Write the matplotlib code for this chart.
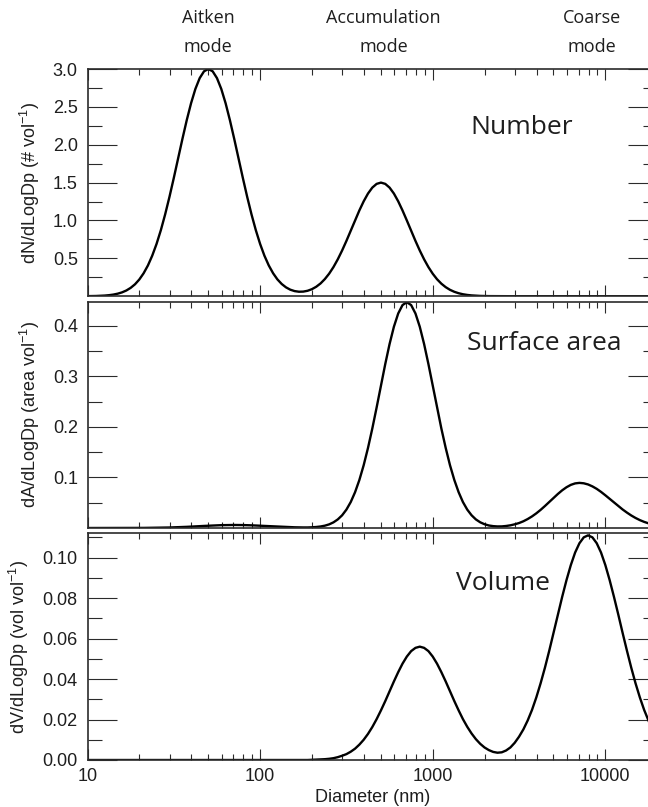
import matplotlib
matplotlib.use("Agg")
import matplotlib.pyplot as plt
from matplotlib.ticker import FixedLocator, NullFormatter, LogLocator, FormatStrFormatter

# ---------------- data ----------------
diameter_nm = [
    10.00, 10.59, 11.22, 11.89, 12.59, 13.34, 14.13, 14.96, 15.85, 16.79,
    17.78, 18.84, 19.95, 21.13, 22.39, 23.71, 25.12, 26.61, 28.18, 29.85,
    31.62, 33.50, 35.48, 37.58, 39.81, 42.17, 44.67, 47.32, 50.12, 53.09,
    56.23, 59.57, 63.10, 66.83, 70.79, 74.99, 79.43, 84.14, 89.13, 94.41,
    100.0, 105.9, 112.2, 118.9, 125.9, 133.4, 141.3, 149.6, 158.5, 167.9,
    177.8, 188.4, 199.5, 211.3, 223.9, 237.1, 251.2, 266.1, 281.8, 298.5,
    316.2, 335.0, 354.8, 375.8, 398.1, 421.7, 446.7, 473.2, 501.2, 530.9,
    562.3, 595.7, 631.0, 668.3, 707.9, 749.9, 794.3, 841.4, 891.3, 944.1,
    1000, 1059, 1122, 1189, 1259, 1334, 1413, 1496, 1585, 1679,
    1778, 1884, 1995, 2113, 2239, 2371, 2512, 2661, 2818, 2985,
    3162, 3350, 3548, 3758, 3981, 4217, 4467, 4732, 5012, 5309,
    5623, 5957, 6310, 6683, 7079, 7499, 7943, 8414, 8913, 9441,
    10000, 10590, 11220, 11890, 12590, 13340, 14130, 14960, 15850, 16790,
    17780, 18840, 19950,
]

number_dist = [
    0.0010, 0.0018, 0.0030, 0.0051, 0.0084, 0.0136, 0.0215, 0.0333, 0.0506, 0.0754,
    0.1100, 0.1572, 0.2201, 0.3020, 0.4060, 0.5348, 0.6902, 0.8728, 1.0813, 1.3127,
    1.5614, 1.8196, 2.0777, 2.3245, 2.5481, 2.7368, 2.8800, 2.9696, 3.0000, 2.9696,
    2.8800, 2.7368, 2.5481, 2.3245, 2.0777, 1.8196, 1.5614, 1.3127, 1.0813, 0.8728,
    0.6902, 0.5352, 0.4068, 0.3033, 0.2224, 0.1611, 0.1165, 0.0859, 0.0673, 0.0591,
    0.0607, 0.0717, 0.0926, 0.1244, 0.1684, 0.2259, 0.2979, 0.3851, 0.4870, 0.6030,
    0.7301, 0.8643, 1.0005, 1.1323, 1.2529, 1.3556, 1.4340, 1.4832, 1.5000, 1.4832,
    1.4340, 1.3556, 1.2529, 1.1323, 1.0005, 0.8643, 0.7301, 0.6030, 0.4870, 0.3845,
    0.2969, 0.2241, 0.1654, 0.1193, 0.0842, 0.0581, 0.0392, 0.0258, 0.0167, 0.0105,
    0.0065, 0.0039, 0.0023, 0.0013, 0.0008, 0.0004, 0.0, 0.0, 0.0, 0.0,
    0.0, 0.0, 0.0, 0.0, 0.0, 0.0, 0.0, 0.0, 0.0, 0.0,
    0.0, 0.0, 0.0, 0.0, 0.0, 0.0, 0.0, 0.0, 0.0, 0.0,
    0.0, 0.0, 0.0, 0.0, 0.0, 0.0, 0.0, 0.0, 0.0, 0.0,
    0.0, 0.0, 0.0,
]

surface_dist = [
    0.0, 0.0, 0.0, 0.0, 0.0, 0.0, 0.0, 0.0, 0.0, 0.0,
    0.0001, 0.0001, 0.0001, 0.0002, 0.0003, 0.0004, 0.0005, 0.0006, 0.0008, 0.0010,
    0.0013, 0.0016, 0.0020, 0.0023, 0.0028, 0.0032, 0.0036, 0.0041, 0.0045, 0.0049,
    0.0053, 0.0056, 0.0058, 0.0060, 0.0060, 0.0060, 0.0058, 0.0056, 0.0053, 0.0049,
    0.0045, 0.0041, 0.0036, 0.0032, 0.0028, 0.0023, 0.0020, 0.0016, 0.0014, 0.0012,
    0.0011, 0.0011, 0.0014, 0.0020, 0.0030, 0.0046, 0.0072, 0.0112, 0.0170, 0.0251,
    0.0364, 0.0514, 0.0708, 0.0950, 0.1243, 0.1585, 0.1970, 0.2387, 0.2820, 0.3246,
    0.3642, 0.3984, 0.4247, 0.4413, 0.4470, 0.4413, 0.4247, 0.3984, 0.3642, 0.3246,
    0.2820, 0.2387, 0.1970, 0.1585, 0.1243, 0.0950, 0.0708, 0.0514, 0.0364, 0.0252,
    0.0170, 0.0113, 0.0075, 0.0050, 0.0037, 0.0031, 0.0032, 0.0040, 0.0053, 0.0073,
    0.0098, 0.0133, 0.0177, 0.0229, 0.0290, 0.0359, 0.0435, 0.0515, 0.0596, 0.0674,
    0.0746, 0.0807, 0.0854, 0.0883, 0.0893, 0.0885, 0.0862, 0.0824, 0.0775, 0.0715,
    0.0648, 0.0578, 0.0506, 0.0435, 0.0367, 0.0305, 0.0248, 0.0199, 0.0156, 0.0121,
    0.0092, 0.0068, 0.0050,
]

volume_dist = [
    0.0, 0.0, 0.0, 0.0, 0.0, 0.0, 0.0, 0.0, 0.0, 0.0,
    0.0, 0.0, 0.0, 0.0, 0.0, 0.0, 0.0, 0.0, 0.0, 0.0,
    0.0, 0.0, 0.0, 0.0, 0.0, 0.0, 0.0, 0.0, 0.0, 0.0,
    0.0, 0.0, 0.0, 0.0, 0.0, 0.0, 0.0, 0.0, 0.0, 0.0,
    0.0, 0.0, 0.0, 0.0, 0.0, 0.0, 0.0, 0.0, 0.0, 0.0,
    0.0, 0.0, 0.0001, 0.0002, 0.0003, 0.0004, 0.0006, 0.0009, 0.0014, 0.0021,
    0.0029, 0.0041, 0.0056, 0.0076, 0.0100, 0.0129, 0.0163, 0.0202, 0.0245, 0.0291,
    0.0340, 0.0388, 0.0434, 0.0476, 0.0511, 0.0538, 0.0554, 0.0560, 0.0554, 0.0538,
    0.0511, 0.0476, 0.0434, 0.0388, 0.0340, 0.0291, 0.0245, 0.0202, 0.0164, 0.0131,
    0.0103, 0.0080, 0.0062, 0.0049, 0.0040, 0.0036, 0.0038, 0.0047, 0.0062, 0.0085,
    0.0115, 0.0151, 0.0195, 0.0247, 0.0309, 0.0379, 0.0456, 0.0540, 0.0628, 0.0718,
    0.0806, 0.0889, 0.0963, 0.1025, 0.1071, 0.1100, 0.1110, 0.1100, 0.1071, 0.1025,
    0.0963, 0.0889, 0.0806, 0.0718, 0.0628, 0.0540, 0.0456, 0.0379, 0.0309, 0.0247,
    0.0194, 0.0150, 0.0114,
]

panel_titles = ["Number", "Surface area", "Volume"]
y_labels = [
    "dN/dLogDp (# vol$^{-1}$)",
    "dA/dLogDp (area vol$^{-1}$)",
    "dV/dLogDp (vol vol$^{-1}$)",
]
y_major_ticks = [
    [0.5, 1.0, 1.5, 2.0, 2.5, 3.0],
    [0.1, 0.2, 0.3, 0.4],
    [0.00, 0.02, 0.04, 0.06, 0.08, 0.10],
]
y_minor_ticks = [
    [0.25, 0.75, 1.25, 1.75, 2.25, 2.75],
    [0.05, 0.15, 0.25, 0.35],
    [0.01, 0.03, 0.05, 0.07, 0.09, 0.11],
]
y_limits = [3.0, 0.448, 0.112]
y_formats = ["%.1f", "%.1f", "%.2f"]

x_tick_values = [10, 100, 1000, 10000]
x_tick_labels = ["10", "100", "1000", "10000"]
x_label = "Diameter (nm)"

mode_names = ["Aitken", "Accumulation", "Coarse"]
mode_positions_nm = [50, 520, 8400]

# ---------------- styling / layout ----------------
plt.rcParams["font.family"] = ["Liberation Sans", "DejaVu Sans"]
plt.rcParams["mathtext.default"] = "regular"

W, H = 648, 807
fig = plt.figure(figsize=(W / 100, H / 100), dpi=100)
fig.patch.set_facecolor("white")

left_px, right_px = 87.5, 657.3
panel_px = [(69.0, 296.2), (301.7, 528.0), (533.3, 760.0)]
title_px = [(522, 128), (544, 343), (503, 583)]

spine_col = "#2b2b2b"
text_col = "#1e1e1e"

series = [number_dist, surface_dist, volume_dist]
axes = []
for i, (top, bot) in enumerate(panel_px):
    ax = fig.add_axes([left_px / W, 1 - bot / H, (right_px - left_px) / W, (bot - top) / H])
    axes.append(ax)
    ax.plot(diameter_nm, series[i], color="black", lw=1.7, solid_joinstyle="round")
    ax.set_xscale("log")
    ax.set_xlim(10, 20000)
    ax.set_ylim(0, y_limits[i])

    ax.xaxis.set_major_locator(FixedLocator(x_tick_values))
    ax.xaxis.set_minor_locator(LogLocator(base=10, subs=range(2, 10), numticks=20))
    ax.xaxis.set_minor_formatter(NullFormatter())
    ax.yaxis.set_major_locator(FixedLocator(y_major_ticks[i]))
    ax.yaxis.set_minor_locator(FixedLocator(y_minor_ticks[i]))
    ax.yaxis.set_major_formatter(FormatStrFormatter(y_formats[i]))

    for sp in ax.spines.values():
        sp.set_color(spine_col)
        sp.set_linewidth(1.2)

    ax.tick_params(which="both", direction="in", top=True, right=True,
                   color=spine_col, width=0.8, labelcolor=text_col, labelsize=13)
    ax.tick_params(axis="y", which="major", length=21, pad=7)
    ax.tick_params(axis="y", which="minor", length=10)
    ax.tick_params(axis="x", which="major", length=8, pad=6)
    ax.tick_params(axis="x", which="minor", length=4)

    if i < 2:
        ax.tick_params(axis="x", labelbottom=False)
    else:
        ax.set_xticklabels(x_tick_labels)
        ax.set_xlabel(x_label, fontsize=13, color=text_col, labelpad=3)

    ax.set_ylabel(y_labels[i], fontsize=13, color=text_col, labelpad=8)

    tx, ty = title_px[i]
    fig.text(tx / W, 1 - ty / H, panel_titles[i], fontsize=19, family="Open Sans",
             color=text_col, ha="center", va="center")

# mode labels above the top panel
ax0 = axes[0]
top0, bot0 = panel_px[0]
h0 = bot0 - top0
for name, pos in zip(mode_names, mode_positions_nm):
    ax0.text(pos, 1 + (top0 - 18) / h0, name, transform=ax0.get_xaxis_transform(),
             ha="center", va="center", fontsize=13, family="Open Sans",
             color=text_col, clip_on=False)
    ax0.text(pos, 1 + (top0 - 47) / h0, "mode", transform=ax0.get_xaxis_transform(),
             ha="center", va="center", fontsize=13, family="Open Sans",
             color=text_col, clip_on=False)

fig.savefig("out.png", dpi=100, facecolor="white")
